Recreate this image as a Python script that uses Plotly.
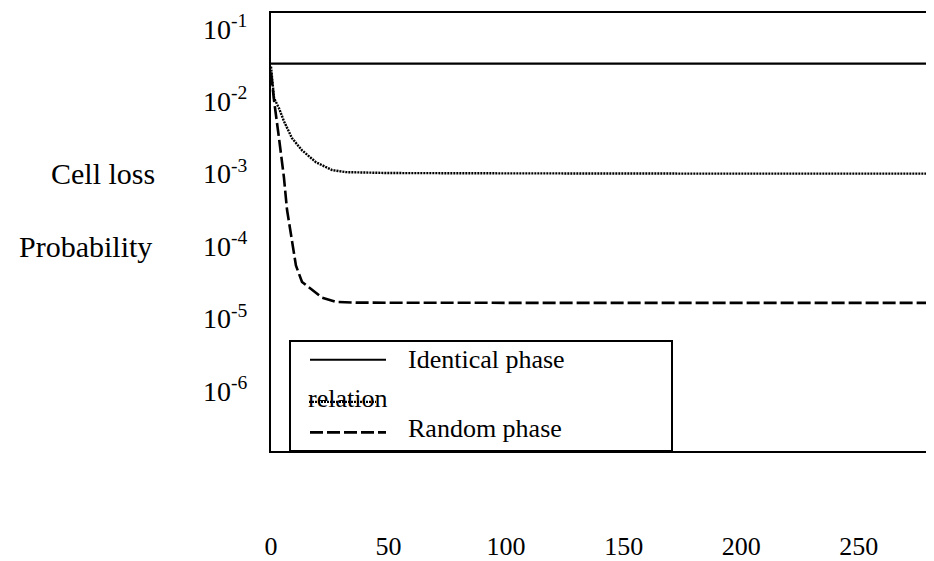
import plotly.graph_objects as go

# ---- data ----
solid_x = [0, 285]
solid_y = [0.033, 0.033]

dotted_x = [0, 1.3, 3.4, 5.5, 8.9, 13.2, 19.1, 26.0, 31.9, 50, 100, 150, 200, 285]
dotted_y = [0.03, 1.1e-2, 8.0e-3, 5.3e-3, 3.1e-3, 2.1e-3, 1.44e-3, 1.12e-3, 1.05e-3,
            1.02e-3, 1.01e-3, 1.0e-3, 1.0e-3, 1.0e-3]

dashed_x = [0, 1.3, 3.4, 5.5, 6.8, 8.9, 10.6, 13.2, 17.4, 21.7, 27.7, 36.2, 100, 200, 285]
dashed_y = [0.025, 1.02e-2, 3.1e-3, 8.9e-4, 3.2e-4, 1.12e-4, 5.4e-5, 3.2e-5, 2.5e-5,
            1.95e-5, 1.7e-5, 1.66e-5, 1.65e-5, 1.65e-5, 1.65e-5]

x_ticks = [0, 50, 100, 150, 200, 250]
y_ticks = [1e-1, 1e-2, 1e-3, 1e-4, 1e-5, 1e-6]
y_ticktext = ["10<sup>-1</sup>", "10<sup>-2</sup>", "10<sup>-3</sup>",
              "10<sup>-4</sup>", "10<sup>-5</sup>", "10<sup>-6</sup>"]

legend_labels = ["Identical phase", "relation", "Random phase"]
y_title_lines = ["Cell loss", "Probability"]

FONT = "Liberation Serif"

# page body has an 8px margin: figure is placed at (8, 8)
OFF = 8
W, H = 934 - OFF, 561 - OFF
PL, PR, PT, PB = 271, 934, 13, 459  # plot-area edges in window pixels
ml, mt = PL - OFF, PT - OFF
mb = H - (PB - OFF)
pw, ph = PR - PL, PB - PT

fig = go.Figure()
fig.add_trace(go.Scatter(x=solid_x, y=solid_y, mode="lines",
                         line=dict(color="black", width=2.2), name="Identical phase relation"))
fig.add_trace(go.Scatter(x=dotted_x, y=dotted_y, mode="lines",
                         line=dict(color="black", width=2.4, dash="2px,1px"), name="dotted"))
fig.add_trace(go.Scatter(x=dashed_x, y=dashed_y, mode="lines",
                         line=dict(color="black", width=2.6, dash="13px,4px"), name="Random phase"))

fig.update_layout(
    width=W, height=H,
    margin=dict(l=ml, r=0, t=mt, b=mb, pad=0),
    paper_bgcolor="white", plot_bgcolor="white",
    showlegend=False,
    font=dict(family=FONT, color="black", size=28),
    xaxis=dict(range=[0, 282], tickvals=x_ticks, ticktext=[str(v) for v in x_ticks],
               showgrid=False, zeroline=False, showline=True, linecolor="black",
               linewidth=2, mirror=True, ticks="", ticklabelstandoff=71,
               tickfont=dict(family=FONT, size=26, color="black")),
    yaxis=dict(type="log", range=[-6.827, -0.783], tickvals=y_ticks, ticktext=y_ticktext,
               showgrid=False, zeroline=False, showline=True, linecolor="black",
               linewidth=2, mirror=False, ticks="", ticklabelstandoff=16,
               tickfont=dict(family=FONT, size=28, color="black")),
)

def px_x(p):
    return (p - PL) / pw

def px_y(p):
    return (PB - p) / ph

# y-axis title words placed beside the 10^-3 and 10^-4 ticks
fig.add_annotation(text=y_title_lines[0], xref="paper", yref="y", x=px_x(157), y=-3,
                   xanchor="right", yanchor="middle", showarrow=False,
                   font=dict(family=FONT, size=30, color="black"))
fig.add_annotation(text=y_title_lines[1], xref="paper", yref="y", x=px_x(154), y=-4,
                   xanchor="right", yanchor="middle", showarrow=False,
                   font=dict(family=FONT, size=30, color="black"))

# ---- hand-drawn style legend box ----
fig.add_shape(type="rect", xref="paper", yref="paper",
              x0=px_x(290), x1=px_x(672), y0=px_y(459), y1=px_y(347),
              line=dict(color="black", width=2), fillcolor="white", layer="above")
fig.add_shape(type="line", xref="paper", yref="paper",
              x0=px_x(310), x1=px_x(386), y0=px_y(366), y1=px_y(366),
              line=dict(color="black", width=2), layer="above")
fig.add_shape(type="line", xref="paper", yref="paper",
              x0=px_x(309), x1=px_x(376), y0=px_y(409), y1=px_y(409),
              line=dict(color="black", width=2.4, dash="2px,1px"), layer="above")
fig.add_shape(type="line", xref="paper", yref="paper",
              x0=px_x(310), x1=px_x(386), y0=px_y(440), y1=px_y(440),
              line=dict(color="black", width=2.6, dash="13px,4px"), layer="above")
fig.add_annotation(text=legend_labels[0], xref="paper", yref="paper", x=px_x(406), y=px_y(366),
                   xanchor="left", yanchor="middle", showarrow=False,
                   font=dict(family=FONT, size=26, color="black"))
fig.add_annotation(text=legend_labels[1], xref="paper", yref="paper", x=px_x(306), y=px_y(406),
                   xanchor="left", yanchor="middle", showarrow=False,
                   font=dict(family=FONT, size=26, color="black"))
fig.add_annotation(text=legend_labels[2], xref="paper", yref="paper", x=px_x(406), y=px_y(436),
                   xanchor="left", yanchor="middle", showarrow=False,
                   font=dict(family=FONT, size=26, color="black"))

fig.write_html("out.html")
